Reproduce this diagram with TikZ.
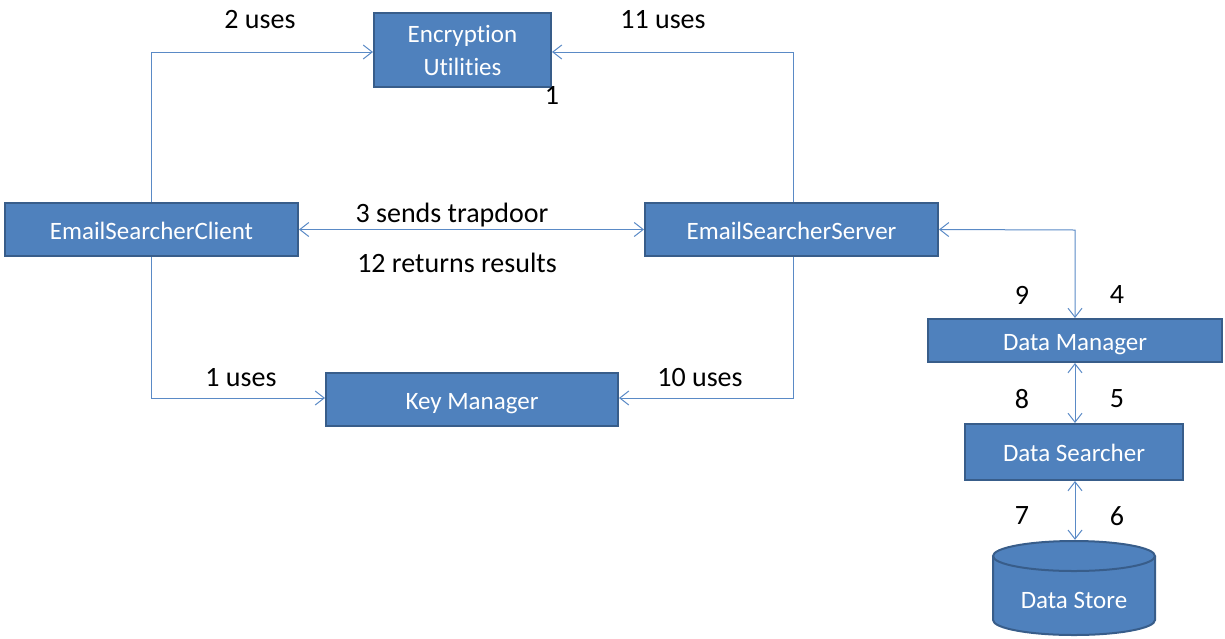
\documentclass[tikz,border=0pt]{standalone}
\usepackage{fontspec}
\setmainfont{Carlito}[RawFeature=-liga]
\usetikzlibrary{arrows.meta}
\definecolor{boxfill}{HTML}{4F81BD}
\definecolor{boxline}{HTML}{385D8A}
\definecolor{wire}{HTML}{5A8AC6}
\tikzset{
  comp/.style={draw=boxline, line width=2pt, fill=boxfill, text=white,
    font=\fontsize{25}{33}\selectfont, inner sep=0pt, align=center},
  oneline/.style={text height=19pt, text depth=0pt},
  link/.style={draw=wire, line width=1pt},
  tip/.style={-{Straight Barb[length=9pt,width=14pt]}},
  tips/.style={{Straight Barb[length=9pt,width=14pt]}-{Straight Barb[length=9pt,width=14pt]}},
  lbl/.style={font=\fontsize{28}{32}\selectfont, text=black, inner sep=0pt}
}
\begin{document}
\begin{tikzpicture}[x=1pt,y=-1pt]
\useasboundingbox (0,0) rectangle (1225,638);

% components
\node[comp, minimum width=177pt, minimum height=74pt] (enc) at (462.5,50) {Encryption\\Utilities};
\node[comp, oneline, minimum width=293pt, minimum height=53pt] (client) at (151.5,229.5) {EmailSearcherClient};
\node[comp, oneline, minimum width=293pt, minimum height=53pt] (server) at (791.5,229.5) {EmailSearcherServer};
\node[comp, oneline, minimum width=292pt, minimum height=53pt] (keys) at (472,399.5) {Key Manager};
\node[comp, oneline, minimum width=294pt, minimum height=43pt] (dman) at (1075,340.5) {Data Manager};
\node[comp, oneline, minimum width=218pt, minimum height=56pt] (dsearch) at (1074,452) {Data Searcher};

% data store cylinder
\node[minimum width=162pt, minimum height=95pt, inner sep=0pt] (dstore) at (1074,587.5) {};
\begin{scope}[shift={(dstore.center)}, x=1pt, y=1pt]
  \fill[boxfill] (-81,31.5) -- (-81,-32.5)
    arc[start angle=180, end angle=360, x radius=81, y radius=15]
    -- (81,31.5) arc[start angle=0, end angle=180, x radius=81, y radius=15] -- cycle;
  \draw[boxline, line width=2pt] (-81,31.5) -- (-81,-32.5)
    arc[start angle=180, end angle=360, x radius=81, y radius=15] -- (81,31.5);
  \draw[boxline, line width=2pt] (0,31.5) ellipse[x radius=81, y radius=15];
\end{scope}
\node[text=white, font=\fontsize{25}{30}\selectfont, inner sep=0pt] (dstorelbl) at (1074,600) {Data Store};

% connectors
\coordinate (cu) at (151,52);
\coordinate (su) at (793,52);
\coordinate (cd) at (151,398);
\coordinate (sd) at (793,398);
\coordinate (dmc) at (1075,230);

\draw[link, tip] (client.north -| cu) -- (cu) -- (cu -| enc.west);
\draw[link, tip] (server.north -| su) -- (su) -- (su -| enc.east);
\draw[link, tip] (client.south -| cd) -- (cd) -- (cd -| keys.west);
\draw[link, tip] (server.south -| sd) -- (sd) -- (sd -| keys.east);
\draw[link, tips] (client.east) -- (server.west);
\draw[link, tips] (server.east) -- (dmc) -- (dmc |- dman.north);
\draw[link, tips] (dmc |- dman.south) -- (dmc |- dsearch.north);
\draw[link, tips] (dmc |- dsearch.south) -- (dmc |- dstore.north);

% labels
\node[lbl] (l2) at (260,20) {2 uses};
\node[lbl] (l11) at (663,20) {11 uses};
\node[lbl] (lone) at (552,95) {1};
\node[lbl] (l3) at (452,215) {3 sends trapdoor};
\node[lbl] (l12) at (457,263) {12 returns results};
\node[lbl] (l1) at (241,378) {1 uses};
\node[lbl] (l10) at (700,378) {10 uses};
\node[lbl] (l9) at (1022,295) {9};
\node[lbl] (l4) at (1117,295) {4};
\node[lbl] (l8) at (1022,399) {8};
\node[lbl] (l5) at (1117,399) {5};
\node[lbl] (l7) at (1022,516) {7};
\node[lbl] (l6) at (1117,516) {6};
\end{tikzpicture}
\end{document}
